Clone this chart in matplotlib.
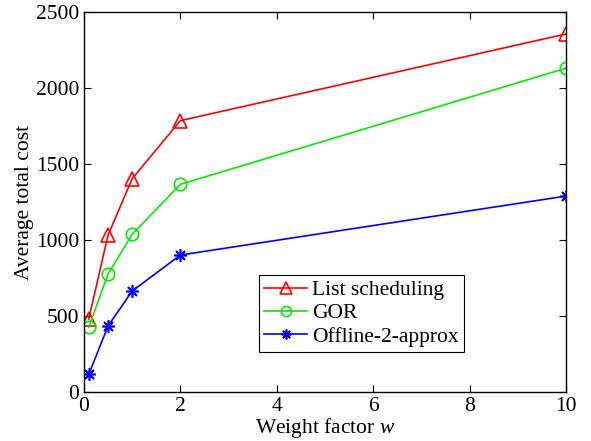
import matplotlib
matplotlib.use('Agg')
import matplotlib.pyplot as plt

plt.rcParams['font.family'] = ['Liberation Serif', 'DejaVu Serif']
plt.rcParams['mathtext.fontset'] = 'custom'
plt.rcParams['mathtext.it'] = 'Liberation Serif:italic'
plt.rcParams['mathtext.rm'] = 'Liberation Serif'

weights = [0.1, 0.5, 1, 2, 10]
list_sched = [480, 1031, 1403, 1785, 2355]
gor = [426, 776, 1037, 1366, 2130]
offline = [116, 434, 664, 901, 1289]

fig = plt.figure(figsize=(5.91, 4.41), dpi=100)
ax = fig.add_axes([0.142, 0.111, 0.816, 0.862])

ax.plot(weights, list_sched, color='red', marker='^', markersize=10,
        markerfacecolor='none', markeredgewidth=1.2, linewidth=1.2, label='List scheduling')
ax.plot(weights, gor, color='#00ee00', marker='o', markersize=9,
        markerfacecolor='none', markeredgewidth=1.2, linewidth=1.2, label='GOR')
ax.plot(weights, offline, color='blue', marker=(8, 2, 0), markersize=9,
        markeredgewidth=1.2, linewidth=1.2, label='Offline-2-approx')

ax.set_xlim(0, 10)
ax.set_ylim(0, 2500)
ax.set_xticks([0, 2, 4, 6, 8, 10])
ax.set_yticks([0, 500, 1000, 1500, 2000, 2500])
ax.tick_params(direction='in', top=True, right=True, labelsize=15.5, length=5)
ax.set_xlabel('Weight factor $w$', fontsize=15.5, labelpad=0)
ax.set_ylabel('Average total cost', fontsize=15.5, labelpad=1)
for s in ax.spines.values():
    s.set_linewidth(1.0)

leg = ax.legend(loc='lower left', bbox_to_anchor=(0.363, 0.105), fontsize=15.5,
                fancybox=False, edgecolor='black', framealpha=1,
                handlelength=2.0, handletextpad=0.2, borderpad=0.25,
                labelspacing=0.15, borderaxespad=0, markerscale=0.8)
leg.get_frame().set_linewidth(0.8)

fig.savefig('out.png', dpi=100)
